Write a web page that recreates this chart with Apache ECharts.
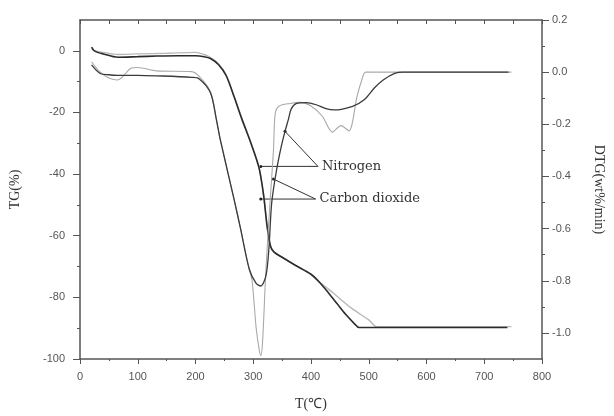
<!DOCTYPE html>
<html>
<head>
<meta charset="utf-8">
<script src="https://cdn.jsdelivr.net/npm/echarts@6/dist/echarts.min.js"></script>
<style>
    html, body { margin: 0; padding: 0; background: #fff; }
    #main { width: 614px; height: 416px; }
</style>
</head>
<body>
<div id="main"></div>
<script>
// TG curves (left axis, %)
var tgN2Temp = [20, 25, 40, 66, 100, 133, 170, 200, 215, 226, 240, 253, 267, 280, 296, 310, 318, 324, 330, 336, 350, 372, 400, 415, 430, 445, 460, 475, 483, 740];
var tgN2 = [1.2, 0, -1.0, -2.1, -1.9, -1.7, -1.6, -1.6, -1.9, -2.5, -4.5, -8, -15, -22, -30, -38, -47, -57, -63.5, -65.3, -67, -69.5, -72.5, -75.2, -78.5, -82, -85.5, -88.5, -89.8, -89.8];
var tgCO2Temp = [20, 25, 40, 66, 100, 150, 200, 215, 226, 240, 253, 267, 280, 296, 310, 318, 324, 330, 336, 350, 372, 400, 415, 440, 470, 500, 514, 747];
var tgCO2 = [0.6, 0, -0.5, -1.2, -1.0, -0.8, -0.5, -1.2, -2.2, -4.3, -7.8, -14.8, -21.8, -29.8, -37.8, -46.8, -56.8, -63.3, -65.2, -67, -69.5, -72.5, -75, -78.8, -83.5, -87.3, -89.5, -89.5];

// DTG curves (right axis, wt%/min)
var dtgN2Temp = [20, 35, 50, 65, 100, 133, 193, 206, 226, 236, 243, 267, 278, 293, 305, 313, 322, 327, 332, 340, 348, 355, 361, 366, 375, 392, 409, 426, 440, 472, 492, 510, 525, 545, 559, 742];
var dtgN2 = [0.028, -0.005, -0.01, -0.012, -0.012, -0.014, -0.02, -0.025, -0.08, -0.18, -0.26, -0.49, -0.6, -0.755, -0.81, -0.82, -0.78, -0.68, -0.5, -0.38, -0.29, -0.227, -0.18, -0.14, -0.12, -0.117, -0.125, -0.14, -0.145, -0.131, -0.106, -0.06, -0.03, -0.005, 0, 0];
var dtgCO2Temp = [20, 35, 50, 65, 75, 88, 100, 133, 193, 206, 226, 236, 243, 267, 278, 293, 298, 305, 310, 313, 316, 321, 324, 329, 335, 338, 345, 364, 381, 400, 420, 437, 452, 466, 472, 479, 488, 495, 747];
var dtgCO2 = [0.04, 0, -0.022, -0.03, -0.015, 0.015, 0.018, 0.005, 0.002, -0.015, -0.075, -0.18, -0.26, -0.49, -0.6, -0.755, -0.8, -0.98, -1.06, -1.087, -1.04, -0.8, -0.68, -0.5, -0.3, -0.16, -0.13, -0.12, -0.116, -0.13, -0.17, -0.23, -0.205, -0.225, -0.19, -0.1, -0.03, 0, 0];

// tick positions
var tgLabels = [-100, -80, -60, -40, -20, 0];
var tgMinor = [-90, -70, -50, -30, -10];
var dtgLabels = [-1.0, -0.8, -0.6, -0.4, -0.2, 0.0, 0.2];
var dtgMinor = [-0.9, -0.7, -0.5, -0.3, -0.1, 0.1];

function pairs(xs, ys) {
    return xs.map(function (x, i) { return [x, ys[i]]; });
}

var chart = echarts.init(document.getElementById('main'));

var axisColor = '#555';
var labelStyle = { color: '#555', fontSize: 11, fontFamily: 'Liberation Sans' };
var nameStyle = { color: '#333', fontSize: 14, fontFamily: 'Liberation Serif' };

option = {
    animation: false,
    backgroundColor: '#fff',
    grid: { left: 78, right: 66, top: 20, bottom: 56 },
    xAxis: [
        {
            type: 'value',
            position: 'bottom',
            min: 0,
            max: 800,
            interval: 100,
            name: 'T(\u2103)',
            nameLocation: 'middle',
            nameGap: 38,
            nameTextStyle: nameStyle,
            axisLine: { onZero: false, lineStyle: { color: axisColor, width: 1.5 } },
            axisTick: { inside: false, length: 5, lineStyle: { color: axisColor } },
            minorTick: { show: true, splitNumber: 2, length: 2, lineStyle: { color: axisColor } },
            axisLabel: Object.assign({ margin: 12 }, labelStyle),
            splitLine: { show: false }
        },
        {
            type: 'value',
            position: 'top',
            min: 0,
            max: 800,
            interval: 50,
            axisLine: { onZero: false, lineStyle: { color: axisColor, width: 1.5 } },
            axisTick: { inside: true, length: 4, lineStyle: { color: axisColor } },
            axisLabel: { show: false },
            splitLine: { show: false }
        }
    ],
    yAxis: [
        {
            type: 'value',
            position: 'left',
            min: -100,
            max: 10,
            name: 'TG(%)',
            nameLocation: 'middle',
            nameGap: 58,
            nameRotate: 90,
            nameTextStyle: nameStyle,
            axisLine: { show: true, onZero: false, lineStyle: { color: axisColor, width: 1.5 } },
            axisTick: { length: 7, customValues: tgLabels, lineStyle: { color: axisColor } },
            axisLabel: Object.assign({ customValues: tgLabels, margin: 15 }, labelStyle),
            splitLine: { show: false }
        },
        {
            type: 'value',
            position: 'right',
            min: -1.1,
            max: 0.2,
            name: 'DTG(wt%/min)',
            nameLocation: 'middle',
            nameGap: 50,
            nameRotate: -90,
            nameTextStyle: nameStyle,
            axisLine: { show: true, onZero: false, lineStyle: { color: axisColor, width: 1.5 } },
            axisTick: { length: 7, customValues: dtgLabels, lineStyle: { color: axisColor } },
            axisLabel: Object.assign({
                customValues: dtgLabels,
                margin: 10,
                formatter: function (v) { return v.toFixed(1); }
            }, labelStyle),
            splitLine: { show: false }
        },
        {
            // short ticks between the right labels
            type: 'value',
            position: 'right',
            min: -1.1,
            max: 0.2,
            axisLine: { show: false, onZero: false },
            axisTick: { length: 3, customValues: dtgMinor, lineStyle: { color: axisColor } },
            axisLabel: { show: false },
            splitLine: { show: false }
        },
        {
            // short ticks between the left labels
            type: 'value',
            position: 'left',
            min: -100,
            max: 10,
            axisLine: { show: false, onZero: false },
            axisTick: { length: 3, customValues: tgMinor, lineStyle: { color: axisColor } },
            axisLabel: { show: false },
            splitLine: { show: false }
        }
    ],
    series: [
        {
            name: 'TG CO2',
            type: 'line',
            xAxisIndex: 0,
            yAxisIndex: 0,
            showSymbol: false,
            smooth: 0.3,
            lineStyle: { color: '#b8b8b8', width: 1.4 },
            data: pairs(tgCO2Temp, tgCO2)
        },
        {
            name: 'TG N2',
            type: 'line',
            yAxisIndex: 0,
            showSymbol: false,
            smooth: 0.3,
            lineStyle: { color: '#2b2b2b', width: 1.6 },
            data: pairs(tgN2Temp, tgN2)
        },
        {
            name: 'DTG CO2',
            type: 'line',
            yAxisIndex: 1,
            showSymbol: false,
            smooth: 0.3,
            lineStyle: { color: '#a9a9a9', width: 1.1 },
            data: pairs(dtgCO2Temp, dtgCO2)
        },
        {
            name: 'DTG N2',
            type: 'line',
            yAxisIndex: 1,
            showSymbol: false,
            smooth: 0.3,
            lineStyle: { color: '#3a3a3a', width: 1.3 },
            data: pairs(dtgN2Temp, dtgN2)
        }
    ]
};

chart.setOption(option);

// leader lines for the two atmospheres, anchored in data space
function tgPx(p) { return chart.convertToPixel({ xAxisIndex: 0, yAxisIndex: 0 }, p); }
function dtgPx(p) { return chart.convertToPixel({ xAxisIndex: 0, yAxisIndex: 1 }, p); }

var notes = [
    { text: 'Nitrogen', label: [412, -37.5], tg: [313, -37.5], dtg: [355, -0.227] },
    { text: 'Carbon dioxide', label: [408, -48.1], tg: [313, -48.1], dtg: [335, -0.41] }
];

var graphics = [];
notes.forEach(function (n) {
    var a = tgPx(n.label), b = tgPx(n.tg), c = dtgPx(n.dtg);
    graphics.push({ type: 'line', shape: { x1: a[0], y1: a[1], x2: b[0], y2: b[1] }, style: { stroke: '#333', lineWidth: 1 } });
    graphics.push({ type: 'line', shape: { x1: a[0], y1: a[1], x2: c[0], y2: c[1] }, style: { stroke: '#333', lineWidth: 1 } });
    graphics.push({ type: 'circle', shape: { cx: b[0], cy: b[1], r: 1.5 }, style: { fill: '#222' } });
    graphics.push({ type: 'circle', shape: { cx: c[0], cy: c[1], r: 1.5 }, style: { fill: '#222' } });
    graphics.push({
        type: 'text', x: a[0] + 4, y: a[1],
        style: { text: n.text, fill: '#333', font: '13px "DejaVu Serif"', textVerticalAlign: 'middle' }
    });
});
chart.setOption({ graphic: graphics });
</script>
</body>
</html>
